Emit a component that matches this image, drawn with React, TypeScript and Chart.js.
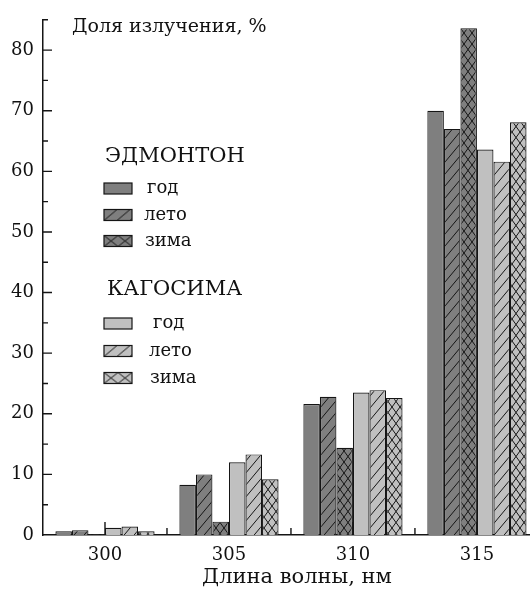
import React, { useEffect, useRef } from "react";
import { Chart, registerables } from "chart.js";

Chart.register(...registerables);

// ---- data ----
const wavelengths = [300, 305, 310, 315];
const edmontonYear = [0.6, 8.3, 21.6, 70.0];
const edmontonSummer = [0.8, 10.0, 22.8, 67.0];
const edmontonWinter = [0.1, 2.2, 14.4, 83.6];
const kagoshimaYear = [1.2, 12.0, 23.5, 63.6];
const kagoshimaSummer = [1.4, 13.3, 23.9, 61.6];
const kagoshimaWinter = [0.6, 9.2, 22.6, 68.1];
const groupNames = ["ЭДМОНТОН", "КАГОСИМА"];
const seasonNames = ["год", "лето", "зима"];
const yTickLabels = [0, 10, 20, 30, 40, 50, 60, 70, 80];
const yTitle = "Доля излучения, %";
const xTitle = "Длина волны, нм";

const DARK = "#7f7f7f";
const LIGHT = "#c0c0c0";
const LINE = "#151515";
const FONT = "'DejaVu Serif', 'Liberation Serif', serif";

type Kind = "solid" | "hatch" | "cross";

function makePattern(kind: Kind, color: string, w: number, h: number): CanvasPattern | string {
  if (kind === "solid") return color;
  const c = document.createElement("canvas");
  c.width = w;
  c.height = h;
  const ctx = c.getContext("2d")!;
  ctx.fillStyle = color;
  ctx.fillRect(0, 0, w, h);
  ctx.strokeStyle = LINE;
  ctx.lineWidth = 1;
  ctx.beginPath();
  for (const dx of [-w, 0, w]) {
    ctx.moveTo(dx, h);
    ctx.lineTo(dx + w, 0);
  }
  if (kind === "cross") {
    for (const dx of [-w, 0, w]) {
      ctx.moveTo(dx, 0);
      ctx.lineTo(dx + w, h);
    }
  }
  ctx.stroke();
  return ctx.createPattern(c, "repeat")!;
}

export default function App() {
  const ref = useRef<HTMLCanvasElement | null>(null);

  useEffect(() => {
    if (!ref.current) return;
    const series: { values: number[]; color: string; kind: Kind }[] = [
      { values: edmontonYear, color: DARK, kind: "solid" },
      { values: edmontonSummer, color: DARK, kind: "hatch" },
      { values: edmontonWinter, color: DARK, kind: "cross" },
      { values: kagoshimaYear, color: LIGHT, kind: "solid" },
      { values: kagoshimaSummer, color: LIGHT, kind: "hatch" },
      { values: kagoshimaWinter, color: LIGHT, kind: "cross" },
    ];
    const barFill = (kind: Kind, color: string) =>
      kind === "hatch" ? makePattern(kind, color, 10, 12) : makePattern(kind, color, 8, 11);

    const datasets = series.map((s, i) => ({
      label: groupNames[Math.floor(i / 3)] + " " + seasonNames[i % 3],
      data: wavelengths.map((x, j) => ({ x, y: s.values[j] })),
      backgroundColor: barFill(s.kind, s.color) as any,
      borderColor: LINE,
      borderWidth: 1.2,
      categoryPercentage: 0.8,
      barPercentage: 1.0,
    }));

    const axesPlugin = {
      id: "axesTicks",
      beforeDatasetsDraw(chart: any) {
        const { ctx } = chart;
        const xs = chart.scales.x;
        const ys = chart.scales.y;
        const y0 = ys.getPixelForValue(0);
        ctx.save();
        ctx.strokeStyle = LINE;
        ctx.lineWidth = 1.4;
        ctx.beginPath();
        for (const v of wavelengths) {
          const px = xs.getPixelForValue(v);
          ctx.moveTo(px, y0);
          ctx.lineTo(px, y0 - 13);
        }
        ctx.stroke();
        ctx.restore();
      },
      afterDraw(chart: any) {
        const { ctx } = chart;
        const xs = chart.scales.x;
        const ys = chart.scales.y;
        const left = chart.chartArea.left;
        const y0 = ys.getPixelForValue(0);
        ctx.save();
        ctx.strokeStyle = LINE;
        ctx.lineWidth = 1.4;
        ctx.beginPath();
        for (let v = 5; v <= 85; v += 5) {
          const py = ys.getPixelForValue(v);
          const len = v % 10 === 0 ? 9 : 5;
          ctx.moveTo(left, py);
          ctx.lineTo(left + len, py);
        }
        for (let k = 0; k < wavelengths.length - 1; k++) {
          const px = xs.getPixelForValue((wavelengths[k] + wavelengths[k + 1]) / 2);
          ctx.moveTo(px, y0);
          ctx.lineTo(px, y0 - 7);
        }
        ctx.stroke();

        // y-axis title inside the plot
        ctx.fillStyle = "#111";
        ctx.font = `19px ${FONT}`;
        ctx.textBaseline = "middle";
        ctx.textAlign = "left";
        ctx.fillText(yTitle, 72, 27);

        // x-axis title
        ctx.font = `21px ${FONT}`;
        ctx.textAlign = "center";
        ctx.fillText(xTitle, 297, 578);
        ctx.textAlign = "left";

        // legend
        const rows = [
          { head: groupNames[0], hx: 105, hy: 157, color: DARK, items: [188.5, 215, 241], tx: [147, 144, 145] },
          { head: groupNames[1], hx: 107, hy: 290, color: LIGHT, items: [323.5, 351, 378], tx: [153, 149, 150] },
        ];
        const kinds: Kind[] = ["solid", "hatch", "cross"];
        for (const r of rows) {
          ctx.fillStyle = "#111";
          ctx.font = `21px ${FONT}`;
          ctx.fillText(r.head, r.hx, r.hy);
          r.items.forEach((cy, k) => {
            const x = 104, w = 28, h = 11, y = cy - h / 2;
            const p = makePattern(kinds[k], r.color, kinds[k] === "cross" ? 14 : 13, 11);
            if (typeof p !== "string" && (p as any).setTransform) {
              (p as any).setTransform(new DOMMatrix().translate(x, y));
            }
            ctx.fillStyle = p as any;
            ctx.fillRect(x, y, w, h);
            ctx.strokeStyle = LINE;
            ctx.lineWidth = 1.2;
            ctx.strokeRect(x, y, w, h);
            ctx.fillStyle = "#111";
            ctx.font = `18px ${FONT}`;
            ctx.fillText(seasonNames[k], r.tx[k], cy);
          });
        }
        ctx.restore();
      },
    };

    const chart = new Chart(ref.current, {
      type: "bar",
      data: { datasets: datasets as any },
      options: {
        animation: false,
        responsive: false,
        devicePixelRatio: 1,
        layout: { padding: { top: 12, right: 0, bottom: 0, left: 0 } },
        plugins: { legend: { display: false }, tooltip: { enabled: false } },
        scales: {
          x: {
            type: "linear",
            offset: false,
            min: 297.5,
            max: 317.14,
            afterBuildTicks: (s: any) => {
              s.ticks = wavelengths.map((v) => ({ value: v }));
            },
            afterFit: (s: any) => {
              s.height = 55;
            },
            grid: { display: false, drawTicks: false },
            border: { display: true, color: LINE, width: 1.5 },
            ticks: {
              color: "#111",
              font: { family: FONT, size: 18 },
              padding: 10,
              autoSkip: false,
              maxRotation: 0,
              callback: (v: any) => String(v),
            },
            title: { display: false },
          },
          y: {
            min: 0,
            max: 85,
            afterFit: (s: any) => {
              s.width = 43;
            },
            grid: { display: false, drawTicks: false },
            border: { display: true, color: LINE, width: 1.5 },
            ticks: {
              stepSize: 5,
              autoSkip: false,
              color: "#111",
              font: { family: FONT, size: 18 },
              padding: 9,
              callback: (v: any) => (yTickLabels.includes(Number(v)) ? String(v) : ""),
            },
          },
        },
      },
      plugins: [axesPlugin],
    });
    return () => chart.destroy();
  }, []);

  return (
    <div style={{ position: "absolute", left: 0, top: 0, width: 530, height: 590, background: "#fff" }}>
      <canvas ref={ref} width={530} height={590} style={{ display: "block", width: 530, height: 590 }} />
    </div>
  );
}
